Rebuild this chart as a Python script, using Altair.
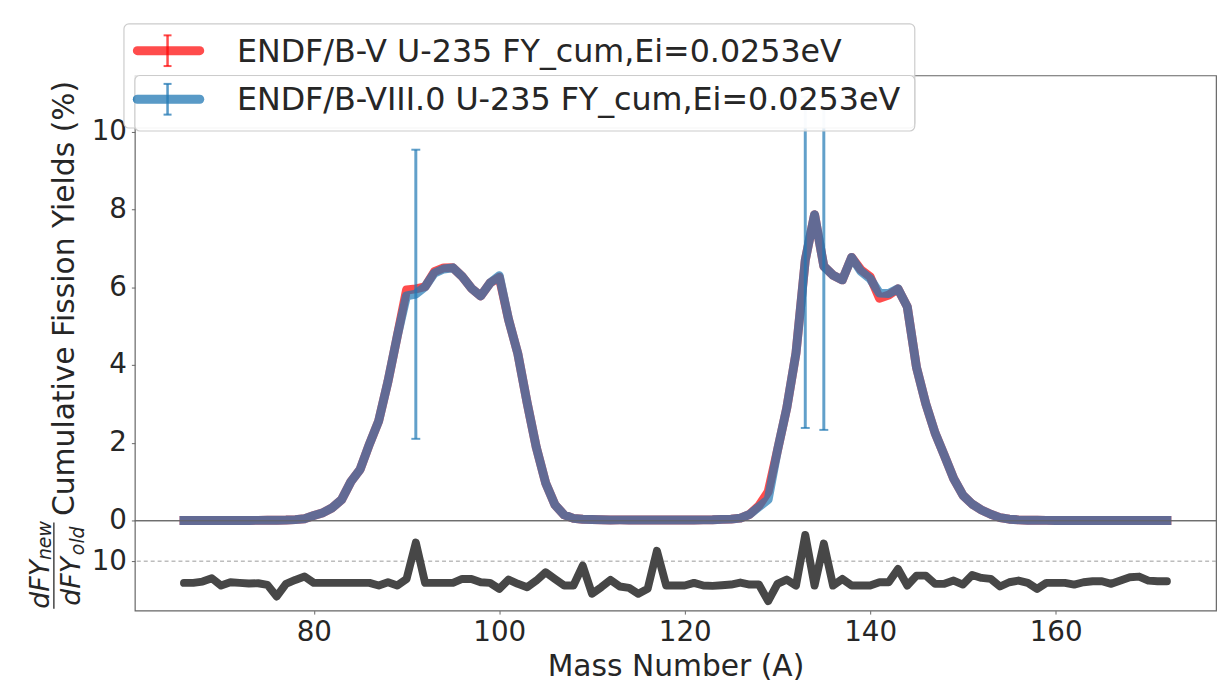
import altair as alt
import pandas as pd

# ---------------- data ----------------
mass = list(range(66, 173))

fy_endfb8 = [
    0.0, 0.0, 0.0, 0.0001, 0.0001, 0.0002, 0.0003, 0.0006, 0.0012, 0.0031,
    0.0062, 0.0095, 0.021, 0.045, 0.127, 0.200, 0.328, 0.537, 0.998, 1.316,
    1.966, 2.564, 3.579, 4.743, 5.780, 5.825, 6.013, 6.365, 6.470, 6.501,
    6.275, 5.973, 5.776, 6.109, 6.299, 5.171, 4.294, 3.031, 1.871, 0.964,
    0.403, 0.142, 0.054, 0.031, 0.025, 0.018, 0.013, 0.014, 0.012, 0.010,
    0.011, 0.011, 0.011, 0.011, 0.013, 0.013, 0.015, 0.016, 0.028, 0.034,
    0.059, 0.157, 0.350, 0.540, 1.800, 2.890, 4.310, 6.700, 7.870, 6.540,
    6.310, 6.190, 6.770, 6.410, 6.220, 5.850, 5.840, 5.960, 5.500, 3.930,
    3.000, 2.250, 1.670, 1.080, 0.650, 0.420, 0.270, 0.160, 0.074, 0.032,
    0.015, 0.0062, 0.0033, 0.0011, 0.0003, 0.0001, 0.0, 0.0, 0.0, 0.0,
    0.0, 0.0, 0.0, 0.0, 0.0, 0.0, 0.0,
]

fy_endfb5 = [
    0.0, 0.0, 0.0, 0.0001, 0.0001, 0.0002, 0.0003, 0.0006, 0.0012, 0.0031,
    0.0062, 0.0095, 0.021, 0.045, 0.127, 0.200, 0.328, 0.537, 0.998, 1.316,
    1.966, 2.564, 3.579, 4.743, 5.930, 5.960, 6.013, 6.400, 6.500, 6.501,
    6.275, 5.973, 5.776, 6.109, 6.260, 5.171, 4.294, 3.031, 1.871, 0.964,
    0.403, 0.142, 0.054, 0.031, 0.025, 0.018, 0.013, 0.014, 0.012, 0.010,
    0.011, 0.011, 0.011, 0.011, 0.013, 0.013, 0.015, 0.016, 0.028, 0.034,
    0.059, 0.157, 0.380, 0.740, 1.800, 2.890, 4.310, 6.700, 7.870, 6.540,
    6.310, 6.190, 6.770, 6.450, 6.270, 5.720, 5.800, 5.960, 5.500, 3.930,
    3.000, 2.250, 1.670, 1.080, 0.650, 0.420, 0.270, 0.160, 0.074, 0.032,
    0.015, 0.0062, 0.0033, 0.0011, 0.0003, 0.0001, 0.0, 0.0, 0.0, 0.0,
    0.0, 0.0, 0.0, 0.0, 0.0, 0.0, 0.0,
]

ratio_dfy = [
    0.330, 0.330, 0.353, 0.418, 0.288, 0.341, 0.330, 0.319, 0.324, 0.298,
    0.165, 0.314, 0.384, 0.455, 0.330, 0.330, 0.330, 0.330, 0.330, 0.330,
    0.330, 0.288, 0.341, 0.288, 0.404, 2.58, 0.330, 0.330, 0.330, 0.330,
    0.404, 0.404, 0.341, 0.330, 0.243, 0.390, 0.314, 0.265, 0.371, 0.566,
    0.404, 0.288, 0.288, 0.793, 0.189, 0.265, 0.384, 0.274, 0.256, 0.189,
    0.243, 1.69, 0.288, 0.288, 0.288, 0.330, 0.288, 0.283, 0.293, 0.303,
    0.336, 0.303, 0.303, 0.130, 0.314, 0.390, 0.288, 3.81, 0.288, 2.46,
    0.288, 0.404, 0.288, 0.288, 0.288, 0.341, 0.341, 0.670, 0.288, 0.478,
    0.478, 0.314, 0.314, 0.371, 0.303, 0.494, 0.425, 0.404, 0.274, 0.341,
    0.371, 0.330, 0.243, 0.330, 0.330, 0.330, 0.303, 0.341, 0.359, 0.359,
    0.314, 0.371, 0.439, 0.455, 0.371, 0.359, 0.359,
]

err_mass = [91, 133, 135]
err_low = [2.10, 2.38, 2.33]
err_high = [9.54, 10.90, 10.60]

legend_labels = [
    "ENDF/B-V U-235 FY_cum,Ei=0.0253eV",
    "ENDF/B-VIII.0 U-235 FY_cum,Ei=0.0253eV",
]
x_ticks = [80, 100, 120, 140, 160]
y_ticks = [0, 2, 4, 6, 8, 10]

# ---------------- styles ----------------
RED = "#ff0000"
BLUE = "#1f77b4"
DARK = "#474747"
TXT = "#262626"
FONT = "DejaVu Sans"

df = pd.DataFrame({"A": mass, "b5": fy_endfb5, "b8": fy_endfb8, "ratio": ratio_dfy})
err = pd.DataFrame({"A": err_mass, "lo": err_low, "hi": err_high})
one = pd.DataFrame({"k": [0]})
ref = pd.DataFrame({"r": [1.0]})

xs = alt.Scale(domain=[60.7, 177.3], nice=False, zero=False)
ys = alt.Scale(domain=[0, 11.45], nice=False, zero=False)
rs = alt.Scale(type="log", domain=[0.08, 8], nice=False)

y_axis = alt.Axis(values=y_ticks, title="Cumulative Fission Yields (%)",
                  titleX=-62, titleY=224.5, titleAngle=270,
                  titleBaseline="alphabetic", titleAlign="center")


def xe():
    return alt.X("A:Q", scale=xs, axis=None)


def ye(f):
    return alt.Y(f, scale=ys, axis=y_axis)


red_line = alt.Chart(df).mark_line(
    color=RED, opacity=0.7, strokeWidth=9, strokeJoin="round", strokeCap="square"
).encode(x=xe(), y=ye("b5:Q"))

err_rule = alt.Chart(err).mark_rule(color=BLUE, opacity=0.7, strokeWidth=3).encode(
    x=xe(), y=ye("lo:Q"), y2="hi:Q")
cap_lo = alt.Chart(err).mark_tick(orient="horizontal", size=9, thickness=2,
                                  color=BLUE, opacity=0.7).encode(x=xe(), y=ye("lo:Q"))
cap_hi = alt.Chart(err).mark_tick(orient="horizontal", size=9, thickness=2,
                                  color=BLUE, opacity=0.7).encode(x=xe(), y=ye("hi:Q"))

blue_line = alt.Chart(df).mark_line(
    color=BLUE, opacity=0.7, strokeWidth=9, strokeJoin="round", strokeCap="square"
).encode(x=xe(), y=ye("b8:Q"))


# ---- legend (decoration, pixel placed) ----
def box(x1, x2, y1, y2):
    return alt.Chart(one).mark_rect(
        fill="white", fillOpacity=0.8, stroke="#cccccc", strokeWidth=1.2, cornerRadius=5
    ).encode(x=alt.value(x1), x2=alt.value(x2), y=alt.value(y1), y2=alt.value(y2))


def handle(color, yc):
    line = alt.Chart(one).mark_rule(color=color, opacity=0.7, strokeWidth=9, strokeCap="round").encode(
        x=alt.value(2.5), x2=alt.value(65.5), y=alt.value(yc))
    bar = alt.Chart(one).mark_rule(color=color, opacity=0.7, strokeWidth=2.5).encode(
        x=alt.value(33), y=alt.value(yc - 15.5), y2=alt.value(yc + 15.5))
    c1 = alt.Chart(one).mark_rule(color=color, opacity=0.7, strokeWidth=2).encode(
        x=alt.value(29), x2=alt.value(37), y=alt.value(yc - 15.5))
    c2 = alt.Chart(one).mark_rule(color=color, opacity=0.7, strokeWidth=2).encode(
        x=alt.value(29), x2=alt.value(37), y=alt.value(yc + 15.5))
    return [line, bar, c1, c2]


def label(text, yb):
    return alt.Chart(one).mark_text(
        text=text, align="left", baseline="alphabetic", fontSize=32, font=FONT, color=TXT
    ).encode(x=alt.value(103), y=alt.value(yb))


legend_layers = (
    [box(-11, 787, -52, 53)]
    + handle(RED, -25) + [label(legend_labels[0], -13.7)]
    + handle(BLUE, 24) + [label(legend_labels[1], 35.3)]
    + [box(0, 787, 0, 56)]
    + handle(BLUE, 24) + [label(legend_labels[1], 35.3)]
)

top = alt.layer(red_line, err_rule, cap_lo, cap_hi, blue_line, *legend_layers).properties(
    width=1091, height=449)

# ---------------- bottom panel ----------------
x_axis = alt.Axis(values=x_ticks, title="Mass Number (A)", titleY=65,
                  titleBaseline="alphabetic", titleAlign="center", titleX=545.5)
r_axis = alt.Axis(values=[1], labelExpr="'10'", title=None)

ratio_line = alt.Chart(df).mark_line(
    color=DARK, strokeWidth=8, strokeJoin="round", strokeCap="round"
).encode(x=alt.X("A:Q", scale=xs, axis=x_axis),
         y=alt.Y("ratio:Q", scale=rs, axis=r_axis))

dash = alt.Chart(ref).mark_rule(color="#9a9a9a", strokeWidth=1, strokeDash=[4, 3]).encode(
    y=alt.Y("r:Q", scale=rs, axis=r_axis))


def ftext(t, x, y, size):
    return alt.Chart(one).mark_text(
        text=t, angle=270, align="left", baseline="alphabetic", fontSize=size,
        font=FONT, fontStyle="italic", color=TXT
    ).encode(x=alt.value(x), y=alt.value(y))


frac = [
    ftext("dFY", -87, 89, 27),
    ftext("new", -84.5, 40, 19),
    ftext("dFY", -55, 86, 27),
    ftext("old", -51.7, 35, 19),
    alt.Chart(one).mark_rule(color=TXT, strokeWidth=1.3).encode(
        x=alt.value(-81.7), y=alt.value(2), y2=alt.value(89)),
]

bottom = alt.layer(dash, ratio_line, *frac).properties(width=1091, height=91)

chart = alt.vconcat(top, bottom, spacing=0, bounds="flush").properties(
    padding={"left": 18, "top": 11, "right": 4, "bottom": 5}
).configure_view(
    stroke="#666666", strokeWidth=1.2
).configure_axis(
    domain=False, grid=False, tickColor="#666666", tickSize=3.5, tickWidth=1,
    labelFont=FONT, labelFontSize=28, labelColor=TXT, labelPadding=5,
    titleFont=FONT, titleFontSize=30, titleFontWeight="normal", titleColor=TXT
).configure_concat(spacing=0)

chart.save("out.html", embed_options={"renderer": "svg", "actions": False})
